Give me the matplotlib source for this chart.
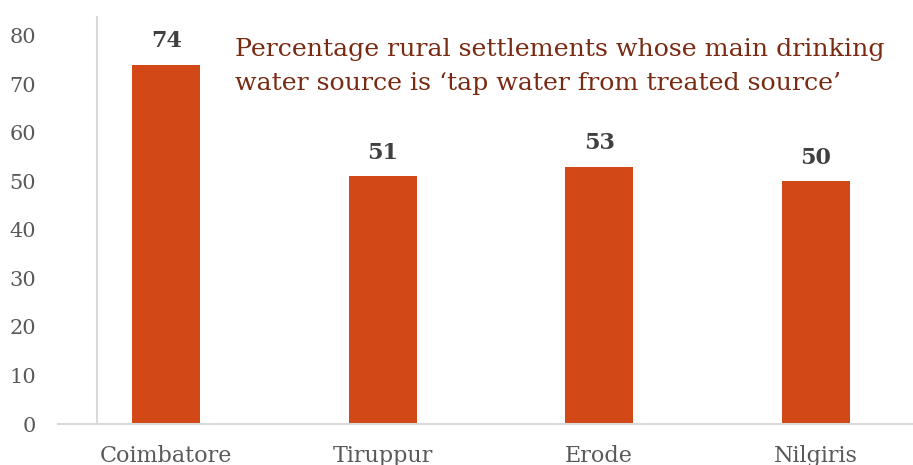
import matplotlib
matplotlib.use("Agg")
import matplotlib.pyplot as plt

districts = ["Coimbatore", "Tiruppur", "Erode", "Nilgiris"]
tap_pct = [74, 51, 53, 50]
y_ticks = [0, 10, 20, 30, 40, 50, 60, 70, 80]

bar_color = "#D34817"
grey_axis = "#D9D9D9"
label_grey = "#595959"

plt.rcParams["font.family"] = ["DejaVu Serif"]

fig = plt.figure(figsize=(9.13, 4.65), dpi=100)
# plot area runs off the right edge a little, like the original export
ax = fig.add_axes([58 / 913, 41 / 465, 866 / 913, 408 / 465])

x = range(len(districts))
ax.bar(x, tap_pct, width=0.315, color=bar_color, zorder=2)

for i, v in zip(x, tap_pct):
    ax.annotate(str(v), (i, v), xytext=(0, 9), textcoords="offset points",
                ha="center", va="bottom", fontsize=16, fontweight="bold",
                color="#404040")

ax.set_xlim(-0.5, 3.5)
ax.set_ylim(0, 84)
ax.set_yticks(y_ticks)
ax.set_xticks(list(x))
ax.set_xticklabels(districts)

for side in ["top", "right", "left"]:
    ax.spines[side].set_visible(False)
ax.spines["bottom"].set_color(grey_axis)
ax.spines["bottom"].set_linewidth(1.5)
ax.axvline(-0.32, color=grey_axis, linewidth=1.5, zorder=1)

ax.tick_params(axis="both", length=0, labelcolor=label_grey)
ax.tick_params(axis="x", pad=15, labelsize=16)
ax.tick_params(axis="y", pad=16, labelsize=15)

fig.text(235 / 913, 1 - 38 / 465,
         "Percentage rural settlements whose main drinking\n"
         "water source is \u2018tap water from treated source\u2019",
         ha="left", va="top", fontsize=18.2, color="#782A12", linespacing=1.6)

fig.savefig("out.png", dpi=100)
